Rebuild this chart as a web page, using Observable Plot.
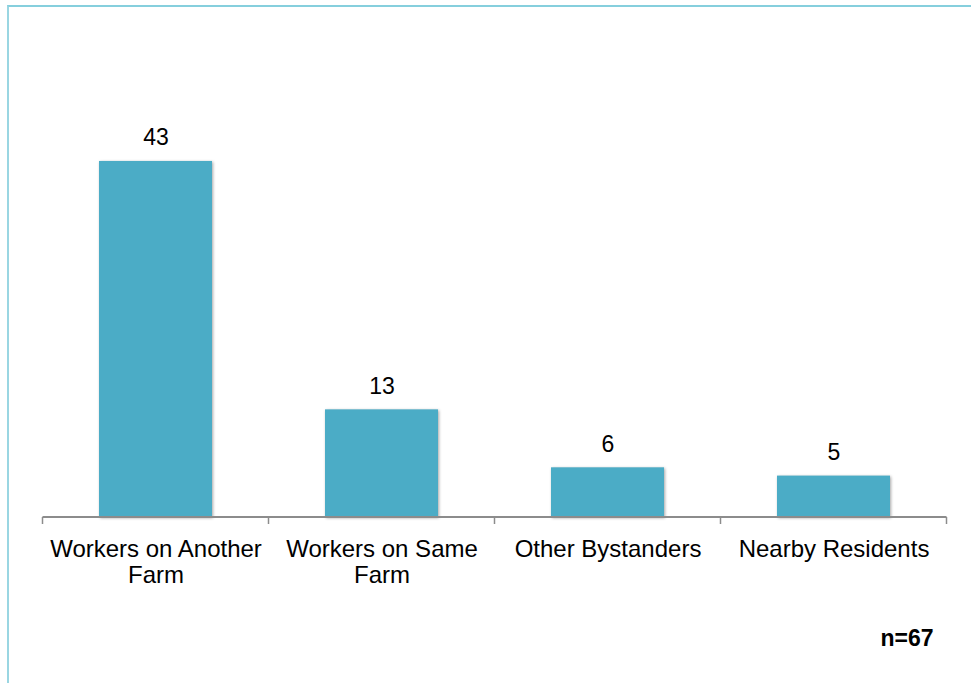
<!DOCTYPE html>
<html>
<head>
<meta charset="utf-8">
<script src="https://cdn.jsdelivr.net/npm/d3@7"></script>
<script src="https://cdn.jsdelivr.net/npm/@observablehq/plot@0.6"></script>
<style>
  html, body { margin: 0; padding: 0; background: #fff; width: 971px; height: 683px; overflow: hidden; }
  #frame { position: absolute; left: 7px; top: 5px; right: -10px; bottom: -10px;
           border-top: 2px solid #86cfdd; border-left: 2px solid #9ad6e2; }
  #chart { position: absolute; left: 0; top: 0; }
  #chart svg { font-family: "Liberation Sans", Arial, sans-serif; }
  #chart rect.bar, #chart .bar rect { filter: drop-shadow(1.5px 1.5px 1.5px rgba(0,0,0,0.35)); }
</style>
</head>
<body>
<div id="frame"></div>
<div id="chart"></div>
<script>
const categories = ["Workers on Another Farm", "Workers on Same Farm", "Other Bystanders", "Nearby Residents"];
const tickLabels = ["Workers on Another\nFarm", "Workers on Same\nFarm", "Other Bystanders", "Nearby Residents"];
const counts = [43, 13, 6, 5];
const sampleNote = "n=67";

const data = categories.map((c, i) => ({category: c, label: tickLabels[i], value: counts[i]}));

// Category boundary ticks on the x axis (between bands)
function boundaryTicks(index, scales, values, dimensions) {
  const x = scales.x;
  const step = x.step();
  const y0 = scales.y(0);
  const g = d3.create("svg:g");
  const edges = categories.map(c => x(c) - (step - x.bandwidth()) / 2);
  edges.push(edges[edges.length - 1] + step);
  g.append("line").attr("x1", edges[0]).attr("x2", edges[edges.length - 1])
    .attr("y1", y0).attr("y2", y0).attr("stroke", "#8c8c8c").attr("stroke-width", 2);
  for (const e of edges) {
    g.append("line").attr("x1", e).attr("x2", e).attr("y1", y0).attr("y2", y0 + 7)
      .attr("stroke", "#8c8c8c").attr("stroke-width", 1.5);
  }
  return g.node();
}

const chart = Plot.plot({
  width: 971,
  height: 683,
  marginLeft: 41,
  marginRight: 23,
  marginTop: 103,
  marginBottom: 166,
  style: {background: "transparent", color: "#000", fontSize: "24px", fontFamily: "'Liberation Sans', Arial, sans-serif"},
  x: {domain: categories, paddingInner: 0.5, paddingOuter: 0.25, label: null},
  y: {domain: [0, 50], axis: null},
  marks: [
    Plot.barY(data, {x: "category", y: "value", fill: "#4bacc6", className: "bar"}),
    boundaryTicks,
    Plot.text(data, {x: "category", y: "value", text: d => String(d.value), lineAnchor: "bottom", dy: -16, fontSize: 23, fill: "#000"}),
    Plot.axisX({tickSize: 0, tickPadding: 20, fontSize: 24, lineHeight: 1.12,
      tickFormat: c => tickLabels[categories.indexOf(c)], label: null, fill: "#000"}),
    Plot.text([sampleNote], {frameAnchor: "bottom-right", text: d => d, dx: -15, dy: 128, fontSize: 23, fontWeight: "bold", textAnchor: "end", lineAnchor: "bottom", fill: "#000"})
  ]
});
document.getElementById("chart").appendChild(chart);
</script>
</body>
</html>
